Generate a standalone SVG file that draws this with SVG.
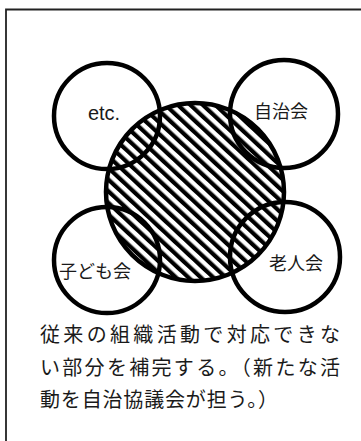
<svg xmlns="http://www.w3.org/2000/svg" width="361" height="441" viewBox="0 0 361 441">
<style>
.ring{fill:none;stroke:#000;stroke-width:4.5}
.lbl{font-family:"Noto Sans CJK JP","Liberation Sans",sans-serif;font-size:18px;fill:#1a1a1a}
.lat{font-family:"Liberation Sans",sans-serif;font-size:20px;fill:#1a1a1a}
.body{font-family:"Noto Sans CJK JP",sans-serif;font-size:20px;fill:#1a1a1a}
</style>
<defs>
<pattern id="hatch" width="8.5" height="8.5" patternUnits="userSpaceOnUse" patternTransform="rotate(-47)">
<rect x="0" y="0" width="4.2" height="8.5" fill="#000"/>
</pattern>
</defs>
<rect width="361" height="441" fill="#fff"/>
<path d="M6 441 V9.5 H361" fill="none" stroke="#222" stroke-width="1.8"/>
<g id="center">
<circle cx="195" cy="192" r="89" fill="url(#hatch)" stroke="#000" stroke-width="4.5"/>
</g>
<g id="etc">
<circle class="ring" cx="107" cy="116" r="53"/>
<text class="lat" x="104" y="120" text-anchor="middle">etc.</text>
</g>
<g id="jichikai">
<circle class="ring" cx="284" cy="114" r="54"/>
<text class="lbl" x="281" y="118" text-anchor="middle">自治会</text>
</g>
<g id="kodomokai">
<circle class="ring" cx="107" cy="260" r="53"/>
<text class="lbl" x="95" y="278" text-anchor="middle">子ども会</text>
</g>
<g id="rojinkai">
<circle class="ring" cx="285" cy="257" r="55"/>
<text class="lbl" x="296" y="270" text-anchor="middle">老人会</text>
</g>
<g id="note">
<text class="body" x="40" y="342" textLength="300" lengthAdjust="spacing">従来の組織活動で対応できな</text>
<text class="body" x="40" y="375" textLength="300" lengthAdjust="spacing">い部分を補完する。（新たな活</text>
<text class="body" x="40" y="407" textLength="238" lengthAdjust="spacing">動を自治協議会が担う。）</text>
</g>
<g id="connectors"></g>
</svg>
